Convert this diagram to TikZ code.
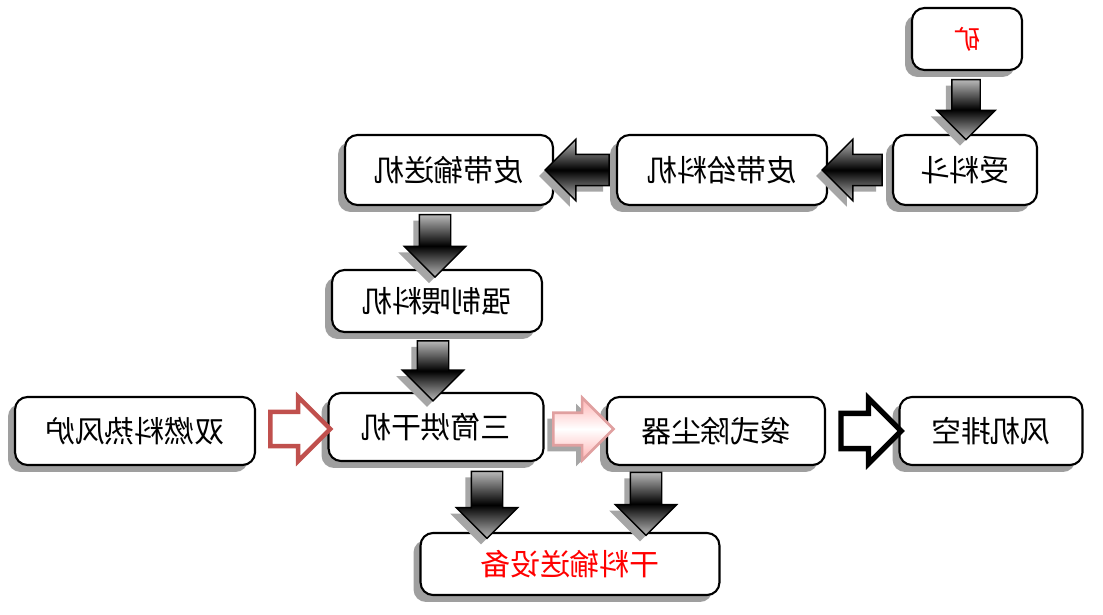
\documentclass[tikz,border=0pt]{standalone}
\usepackage{fontspec}
\usepackage{graphicx}
\usepackage{tikz}
\usetikzlibrary{shapes.arrows, shadows, calc}
\setmainfont{Noto Sans CJK SC}
\definecolor{brickred}{HTML}{C0504D}
\definecolor{palered}{HTML}{E0A0A0}
\newcommand{\mir}[1]{\reflectbox{#1}}

\begin{document}
\begin{tikzpicture}[x=0.02cm, y=-0.02cm,
  box/.style={draw=black, very thick, rounded corners=2.5mm, fill=white, inner sep=0pt,
    font=\fontsize{17}{19}\selectfont,
    drop shadow={shadow xshift=-1.4mm, shadow yshift=-1.4mm, fill=gray!75, opacity=1}},
  blockarrow/.style={single arrow, inner xsep=0pt, inner ysep=0.3cm,
    single arrow head extend=0.3cm, minimum height=1.25cm},
  arrowshadow/.style={drop shadow={shadow xshift=-1.2mm, shadow yshift=-1.2mm, fill=gray!70, opacity=1}},
  darkarrow/.style={blockarrow, arrowshadow, draw=black, thick, shading=axis,
    top color=gray!55, bottom color=gray!55, middle color=black}
]
\useasboundingbox (0,0) rectangle (1103,615);

% Boxes
\node[box, minimum width=2.2cm, minimum height=1.24cm, text=red, font=\fontsize{15}{17}\selectfont] (kuang) at (967,39) {\mir{矿}};
\node[box, minimum width=2.88cm, minimum height=1.4cm] (shouliao) at (965,170) {\mir{受料斗}};
\node[box, minimum width=4.2cm, minimum height=1.4cm] (geiliao) at (722,170) {\mir{皮带给料机}};
\node[box, minimum width=4.16cm, minimum height=1.4cm] (shusong) at (449,170) {\mir{皮带输送机}};
\node[box, minimum width=4.2cm, minimum height=1.24cm] (weiliao) at (437,301) {\mir{强制喂料机}};
\node[box, minimum width=4.3cm, minimum height=1.36cm] (hongan) at (436,427) {\mir{三筒烘干机}};
\node[box, minimum width=4.8cm, minimum height=1.36cm] (reflu) at (135,431) {\mir{双燃料热风炉}};
\node[box, minimum width=4.36cm, minimum height=1.36cm] (chuchen) at (716,431) {\mir{袋式除尘器}};
\node[box, minimum width=3.66cm, minimum height=1.36cm] (paikong) at (991,431) {\mir{风机排空}};
\node[box, minimum width=5.98cm, minimum height=1.24cm, text=red] (ganliao) at (570,564) {\mir{干料输送设备}};

% Block arrows
\node[darkarrow, rotate=-90, inner ysep=0.27cm, minimum height=1.2cm] (a1) at ($(kuang.south)!.5!(shouliao.north)$) {};
\node[darkarrow, rotate=180, minimum height=1.2cm] (a2) at ($(shouliao.west)!.5!(geiliao.east)$) {};
\node[darkarrow, rotate=180, minimum height=1.28cm] (a3) at ($(geiliao.west)!.5!(shusong.east)$) {};
\node[darkarrow, rotate=-90] (a4) at (435,238) {};
\node[darkarrow, rotate=-90, minimum height=1.2cm] (a5) at (433,363) {};
\node[darkarrow, rotate=-90, minimum height=1.34cm] (a6) at (487,497) {};
\node[darkarrow, rotate=-90, minimum height=1.26cm] (a7) at (646,496) {};
\node[blockarrow, draw=brickred, line width=2.5pt, fill=white, minimum height=1.2cm] (a8) at ($(reflu.east)!.5!(hongan.west)$) {};
\node[blockarrow, arrowshadow, draw=palered, line width=1.5pt, top color=red!30, bottom color=red!30, middle color=white, minimum height=1.2cm] (a9) at ($(hongan.east)!.5!(chuchen.west)$) {};
\node[blockarrow, draw=black, line width=3pt, fill=white, minimum height=1.2cm] (a10) at ($(chuchen.east)!.5!(paikong.west)$) {};

\end{tikzpicture}
\end{document}
